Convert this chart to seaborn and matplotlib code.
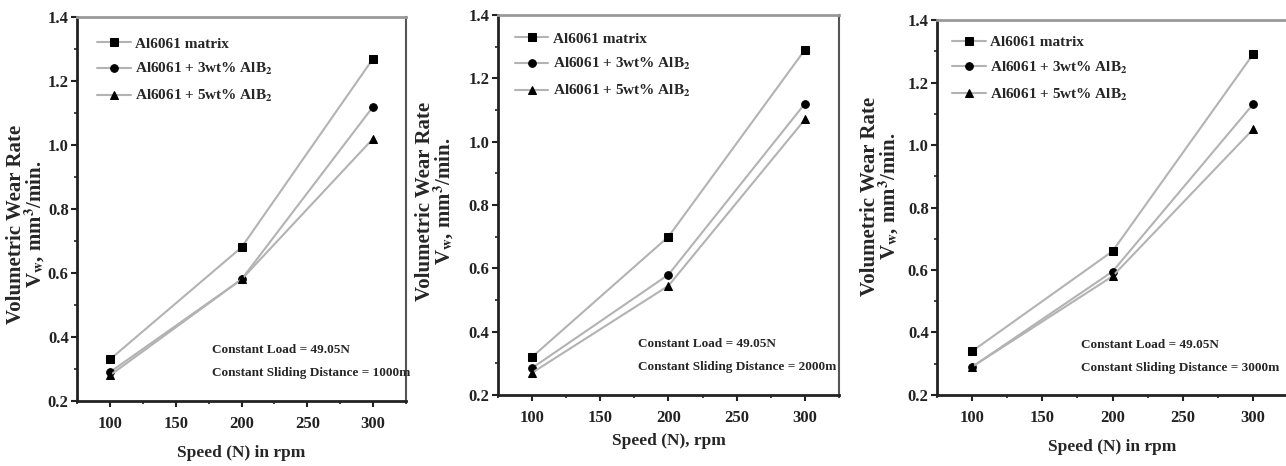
import matplotlib
matplotlib.use("Agg")
import matplotlib.pyplot as plt
import seaborn as sns
import pandas as pd
from matplotlib.ticker import MultipleLocator

sns.set_theme(style="ticks")
plt.rcParams['font.family'] = ['Liberation Serif', 'DejaVu Serif']
plt.rcParams['mathtext.fontset'] = 'stix'

speeds = [100, 200, 300]
series_names = ["Al6061 matrix", "Al6061 + 3wt% AlB$_\\mathbf{2}$", "Al6061 + 5wt% AlB$_\\mathbf{2}$"]

# Panel 1: sliding distance 1000 m
p1_matrix = [0.33, 0.68, 1.27]
p1_3wt = [0.29, 0.58, 1.12]
p1_5wt = [0.28, 0.58, 1.02]
# Panel 2: sliding distance 2000 m
p2_matrix = [0.32, 0.70, 1.29]
p2_3wt = [0.285, 0.58, 1.12]
p2_5wt = [0.27, 0.545, 1.07]
# Panel 3: sliding distance 3000 m
p3_matrix = [0.34, 0.66, 1.29]
p3_3wt = [0.29, 0.595, 1.13]
p3_5wt = [0.29, 0.58, 1.05]

xlabels = ["Speed (N) in rpm", "Speed (N), rpm", "Speed (N) in rpm"]
distances = ["1000m", "2000m", "3000m"]
ylabel = "Volumetric Wear Rate\nV$_\\mathbf{w}$, mm$^\\mathbf{3}$/min."

panels = [
    (p1_matrix, p1_3wt, p1_5wt),
    (p2_matrix, p2_3wt, p2_5wt),
    (p3_matrix, p3_3wt, p3_5wt),
]

positions = [
    [0.0599, 0.1395, 0.2558, 0.8240],
    [0.3872, 0.1524, 0.2652, 0.8154],
    [0.7286, 0.1524, 0.2730, 0.8046],
]
ylabel_coords = [(-0.090, 0.46), (-0.123, 0.51), (-0.102, 0.53)]
xlabel_pads = [9, 5, 9]
legend_pads = [1.0, 0.8, 0.7]

markers = {series_names[0]: "s", series_names[1]: "o", series_names[2]: "^"}

fig = plt.figure(figsize=(12.86, 4.66), dpi=100)
for i, (vals, pos) in enumerate(zip(panels, positions)):
    ax = fig.add_axes(pos)
    rows = []
    for name, v in zip(series_names, vals):
        for s, y in zip(speeds, v):
            rows.append({"Speed": s, "Rate": y, "Series": name})
    df = pd.DataFrame(rows)
    sns.lineplot(data=df, x="Speed", y="Rate", hue="Series", style="Series",
                 markers=markers, dashes=False,
                 palette=["#b3b3b3"] * 3, linewidth=1.5,
                 markersize=5.5, markerfacecolor="black", markeredgecolor="black",
                 ax=ax, legend=True)
    ax.set_xlim(75, 325)
    ax.set_ylim(0.2, 1.4)
    ax.xaxis.set_major_locator(MultipleLocator(50))
    ax.xaxis.set_minor_locator(MultipleLocator(25))
    ax.yaxis.set_minor_locator(MultipleLocator(0.1))
    ax.set_yticks([0.2, 0.4, 0.6, 0.8, 1.0, 1.2, 1.4])
    ax.set_yticklabels(["0.2", "0.4", "0.6", "0.8", "1.0", "1.2", "1.4"])
    ax.tick_params(axis="both", which="major", direction="out", length=4, width=1.5,
                   labelsize=12, colors="#222222")
    ax.tick_params(axis="x", which="major", pad=7)
    ax.tick_params(axis="y", which="major", pad=2)
    ax.tick_params(axis="both", which="minor", direction="out", length=2.5, width=1.2,
                   colors="#222222")
    for lab in ax.get_xticklabels() + ax.get_yticklabels():
        lab.set_fontweight("bold")
    ax.spines["left"].set_linewidth(2.0)
    ax.spines["bottom"].set_linewidth(2.0)
    ax.spines["left"].set_color("#222222")
    ax.spines["bottom"].set_color("#222222")
    ax.spines["top"].set_color("#999999")
    ax.spines["top"].set_linewidth(2.0)
    ax.spines["right"].set_color("#555555")
    ax.spines["right"].set_linewidth(1.5)
    ax.set_xlabel(xlabels[i], fontsize=12.5, fontweight="bold", labelpad=xlabel_pads[i])
    ax.set_ylabel(ylabel, fontsize=15, fontweight="bold", linespacing=0.85)
    ax.yaxis.set_label_coords(*ylabel_coords[i])
    ax.text(0.41, 0.133, "Constant Load = 49.05N", transform=ax.transAxes,
            fontsize=9.5, fontweight="bold", ha="left", va="center")
    ax.text(0.41, 0.073, "Constant Sliding Distance = " + distances[i],
            transform=ax.transAxes, fontsize=9.5, fontweight="bold",
            ha="left", va="center")
    leg = ax.legend(loc="upper left", frameon=False, fontsize=11,
                    handlelength=2.2, handletextpad=0.3, labelspacing=0.7,
                    borderaxespad=legend_pads[i], borderpad=0.3)
    for t in leg.get_texts():
        t.set_fontweight("bold")
    ax.set_facecolor("white")

fig.savefig("out.png", dpi=100, facecolor="white")
